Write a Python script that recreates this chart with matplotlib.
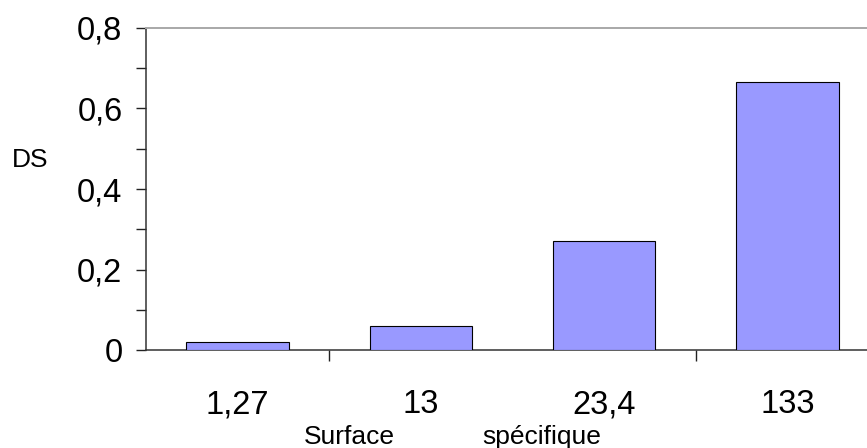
import matplotlib
matplotlib.use('Agg')
import matplotlib.pyplot as plt
from matplotlib.ticker import MultipleLocator, FixedLocator, NullFormatter

categories = ['1,27', '13', '23,4', '133']
ds_values = [0.021, 0.060, 0.270, 0.667]
y_ticks = [0, 0.2, 0.4, 0.6, 0.8]
y_labels = ['0', '0,2', '0,4', '0,6', '0,8']

plt.rcParams['font.family'] = ['Liberation Sans', 'DejaVu Sans']

fig = plt.figure(figsize=(8.67, 4.48), dpi=100, facecolor='white')
ax = fig.add_axes([146 / 867, 98 / 448, 733 / 867, 322 / 448])

x = list(range(len(categories)))
ax.bar(x, ds_values, width=0.56, color='#9999FF', edgecolor='black', linewidth=0.8, zorder=3)

ax.set_xlim(-0.5, len(categories) - 0.5)
ax.set_ylim(0, 0.8)

# y axis
ax.set_yticks(y_ticks)
ax.set_yticklabels(y_labels)
ax.yaxis.set_minor_locator(MultipleLocator(0.1))
ax.tick_params(axis='y', which='both', direction='out', length=7.5, width=1,
               color='#222222', labelsize=23.5, pad=9.5)

# x axis: tick marks between every second pair of categories
ax.xaxis.set_major_locator(FixedLocator([0.5, 2.5]))
ax.xaxis.set_major_formatter(NullFormatter())
ax.tick_params(axis='x', which='major', direction='out', length=8, width=1, color='#222222')

# category labels on a shared baseline, 63 px under the axis
for xi, name in zip(x, categories):
    ax.text(xi, -63 / 322, name, transform=ax.get_xaxis_transform(),
            fontsize=23.5, ha='center', va='baseline')

for side in ('left', 'bottom'):
    ax.spines[side].set_color('#333333')
    ax.spines[side].set_linewidth(1.1)
ax.spines['top'].set_color('#A8A8A8')
ax.spines['top'].set_linewidth(1.4)
ax.spines['right'].set_visible(False)

fig.text(12 / 867, 1 - 167 / 448, 'DS', fontsize=19, va='baseline', ha='left')
fig.text(304 / 867, 1 - 444 / 448, 'Surface', fontsize=19, va='baseline', ha='left')
fig.text(482 / 867, 1 - 444 / 448, 'spécifique', fontsize=19, va='baseline', ha='left')

fig.savefig('out.png', dpi=100, facecolor='white')
